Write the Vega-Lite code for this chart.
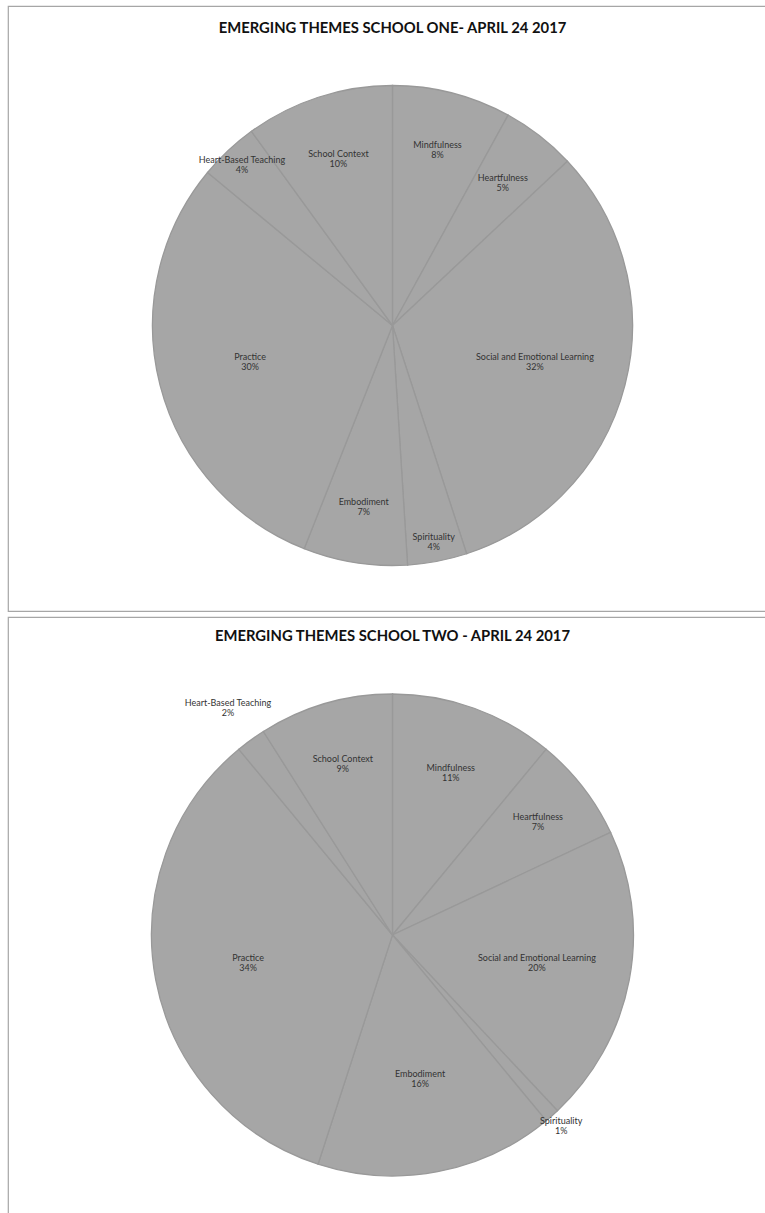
{
  "$schema": "https://vega.github.io/schema/vega-lite/v6.json",
  "padding": {"top": 5, "left": 7, "right": 0, "bottom": 0},
  "spacing": 4,
  "background": "white",
  "config": {
    "title": {"font": "Lato", "fontSize": 14.8, "fontWeight": "bold", "color": "#111111", "anchor": "middle"},
    "text": {"font": "Lato", "fontSize": 9, "fill": "#333333"}
  },
  "datasets": {
    "school1": [
      {"rank": 1, "theme": "Mindfulness", "share": 0.08},
      {"rank": 2, "theme": "Heartfulness", "share": 0.05},
      {"rank": 3, "theme": "Social and Emotional Learning", "share": 0.32},
      {"rank": 4, "theme": "Spirituality", "share": 0.04},
      {"rank": 5, "theme": "Embodiment", "share": 0.07},
      {"rank": 6, "theme": "Practice", "share": 0.30},
      {"rank": 7, "theme": "Heart-Based Teaching", "share": 0.04},
      {"rank": 8, "theme": "School Context", "share": 0.10}
    ],
    "school2": [
      {"rank": 1, "theme": "Mindfulness", "share": 0.11},
      {"rank": 2, "theme": "Heartfulness", "share": 0.07},
      {"rank": 3, "theme": "Social and Emotional Learning", "share": 0.20},
      {"rank": 4, "theme": "Spirituality", "share": 0.01},
      {"rank": 5, "theme": "Embodiment", "share": 0.16},
      {"rank": 6, "theme": "Practice", "share": 0.34},
      {"rank": 7, "theme": "Heart-Based Teaching", "share": 0.02},
      {"rank": 8, "theme": "School Context", "share": 0.09}
    ]
  },
  "vconcat": [
    {
      "width": 769,
      "height": 605,
      "view": {"stroke": "#a6a6a6", "strokeWidth": 1.2},
      "data": {"name": "school1"},
      "title": {"text": "EMERGING THEMES SCHOOL ONE- APRIL 24 2017", "offset": -30},
      "encoding": {
        "theta": {"field": "share", "type": "quantitative", "stack": true},
        "order": {"field": "rank", "type": "quantitative"}
      },
      "layer": [
        {"mark": {"type": "arc", "radius": 240, "fill": "#a6a6a6", "stroke": "#999999", "strokeWidth": 1.3, "yOffset": 17}},
        {"mark": {"type": "text", "baseline": "bottom", "yOffset": 17},
         "encoding": {
           "text": {"field": "theme", "type": "nominal"},
           "radius": {"field": "share", "type": "quantitative", "scale": {"type": "linear", "zero": false, "clamp": true, "domain": [0.01, 0.02, 0.04, 0.05, 0.07, 0.11, 0.16], "range": [255, 280, 220, 180, 184, 172, 147]}}
         }},
        {"mark": {"type": "text", "baseline": "top", "yOffset": 17, "dy": 1},
         "encoding": {
           "text": {"field": "share", "type": "quantitative", "format": ".0%"},
           "radius": {"field": "share", "type": "quantitative", "scale": {"type": "linear", "zero": false, "clamp": true, "domain": [0.01, 0.02, 0.04, 0.05, 0.07, 0.11, 0.16], "range": [255, 280, 220, 180, 184, 172, 147]}}
         }}
      ]
    },
    {
      "width": 769,
      "height": 605,
      "view": {"stroke": "#a6a6a6", "strokeWidth": 1.2},
      "data": {"name": "school2"},
      "title": {"text": "EMERGING THEMES SCHOOL TWO - APRIL 24 2017", "offset": -27},
      "encoding": {
        "theta": {"field": "share", "type": "quantitative", "stack": true},
        "order": {"field": "rank", "type": "quantitative"}
      },
      "layer": [
        {"mark": {"type": "arc", "radius": 241, "fill": "#a6a6a6", "stroke": "#999999", "strokeWidth": 1.3, "yOffset": 15.5}},
        {"mark": {"type": "text", "baseline": "bottom", "yOffset": 15.5},
         "encoding": {
           "text": {"field": "theme", "type": "nominal"},
           "radius": {"field": "share", "type": "quantitative", "scale": {"type": "linear", "zero": false, "clamp": true, "domain": [0.01, 0.02, 0.04, 0.05, 0.07, 0.11, 0.16], "range": [255, 280, 220, 180, 184, 172, 147]}}
         }},
        {"mark": {"type": "text", "baseline": "top", "yOffset": 15.5, "dy": 1},
         "encoding": {
           "text": {"field": "share", "type": "quantitative", "format": ".0%"},
           "radius": {"field": "share", "type": "quantitative", "scale": {"type": "linear", "zero": false, "clamp": true, "domain": [0.01, 0.02, 0.04, 0.05, 0.07, 0.11, 0.16], "range": [255, 280, 220, 180, 184, 172, 147]}}
         }}
      ]
    }
  ]
}
